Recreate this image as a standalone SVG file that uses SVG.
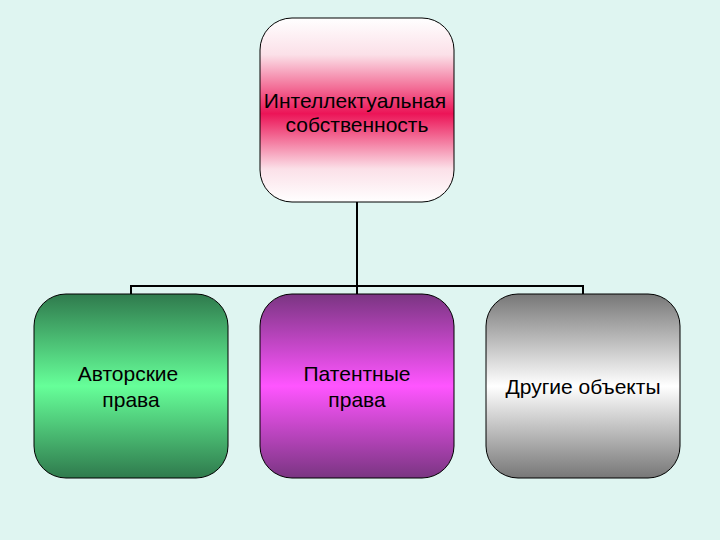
<svg xmlns="http://www.w3.org/2000/svg" width="720" height="540" viewBox="0 0 720 540">
<style>
.box{stroke:#000;stroke-width:1}
.t{font-family:"Liberation Sans",Arial,sans-serif;font-size:21px;fill:#000;text-anchor:middle}
.c{fill:none;stroke:#000;stroke-width:2}
</style>
<defs>
<linearGradient id="gRed" x1="0" y1="0" x2="0" y2="1">
<stop offset="0" stop-color="#ffffff"/><stop offset="0.2" stop-color="#fbe0e8"/><stop offset="0.52" stop-color="#ec1457"/><stop offset="0.82" stop-color="#fbe0e8"/><stop offset="1" stop-color="#ffffff"/>
</linearGradient>
<linearGradient id="gGreen" x1="0" y1="0" x2="0" y2="1">
<stop offset="0" stop-color="#2f7a4d"/><stop offset="0.5" stop-color="#66ff99"/><stop offset="1" stop-color="#2f7a4d"/>
</linearGradient>
<linearGradient id="gPurple" x1="0" y1="0" x2="0" y2="1">
<stop offset="0" stop-color="#7a3582"/><stop offset="0.5" stop-color="#ff55ff"/><stop offset="1" stop-color="#7a3582"/>
</linearGradient>
<linearGradient id="gGray" x1="0" y1="0" x2="0" y2="1">
<stop offset="0" stop-color="#777777"/><stop offset="0.5" stop-color="#ffffff"/><stop offset="1" stop-color="#777777"/>
</linearGradient>
</defs>
<rect width="720" height="540" fill="#dff5f1"/>
<g id="connectors">
<path class="c" d="M357 202 V286" stroke-width="3"/>
<path class="c" d="M131 295 V286 H583 V295"/>
<path class="c" d="M357 286 V295"/>
</g>
<g id="n-root">
<rect class="box" x="260" y="18" width="194" height="184" rx="32" fill="url(#gRed)"/>
<text class="t" x="355" y="108">Интеллектуальная</text>
<text class="t" x="357" y="132">собственность</text>
</g>
<g id="n-author">
<rect class="box" x="34" y="294" width="194" height="184" rx="32" fill="url(#gGreen)"/>
<text class="t" x="128" y="381">Авторские</text>
<text class="t" x="131" y="407">права</text>
</g>
<g id="n-patent">
<rect class="box" x="260" y="294" width="194" height="184" rx="32" fill="url(#gPurple)"/>
<text class="t" x="357" y="381">Патентные</text>
<text class="t" x="357" y="407">права</text>
</g>
<g id="n-other">
<rect class="box" x="486" y="294" width="194" height="184" rx="32" fill="url(#gGray)"/>
<text class="t" x="583" y="394">Другие объекты</text>
</g>
</svg>
